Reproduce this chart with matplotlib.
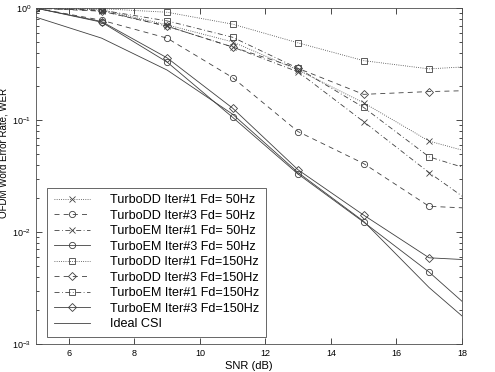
import numpy as np
import matplotlib
matplotlib.use('Agg')
import matplotlib.pyplot as plt
from matplotlib.ticker import LogLocator, NullFormatter

plt.rcParams['font.family'] = ['Liberation Sans', 'DejaVu Sans']

# SNR points (last point lies beyond the axis limit, lines are clipped)
snr = [5, 7, 9, 11, 13, 15, 17, 19]

# WER values
dd1_50 = [1.0, 0.97, 0.71, 0.50, 0.28, 0.143, 0.065, 0.045]
dd3_50 = [1.0, 0.78, 0.54, 0.24, 0.079, 0.041, 0.017, 0.016]
em1_50 = [1.0, 0.95, 0.69, 0.45, 0.27, 0.097, 0.034, 0.013]
em3_50 = [1.0, 0.75, 0.33, 0.106, 0.033, 0.0123, 0.0044, 0.00133]
dd1_150 = [1.0, 0.99, 0.92, 0.72, 0.49, 0.34, 0.287, 0.31]
dd3_150 = [1.0, 0.94, 0.69, 0.45, 0.29, 0.17, 0.18, 0.186]
em1_150 = [1.0, 0.96, 0.77, 0.55, 0.29, 0.13, 0.047, 0.031]
em3_150 = [1.0, 0.76, 0.36, 0.128, 0.036, 0.0142, 0.0059, 0.0055]
ideal = [0.83, 0.54, 0.28, 0.113, 0.034, 0.0125, 0.0032, 0.001]

labels = ['TurboDD Iter#1 Fd= 50Hz', 'TurboDD Iter#3 Fd= 50Hz',
          'TurboEM Iter#1 Fd= 50Hz', 'TurboEM Iter#3 Fd= 50Hz',
          'TurboDD Iter#1 Fd=150Hz', 'TurboDD Iter#3 Fd=150Hz',
          'TurboEM Iter#1 Fd=150Hz', 'TurboEM Iter#3 Fd=150Hz',
          'Ideal CSI']
series = [dd1_50, dd3_50, em1_50, em3_50, dd1_150, dd3_150, em1_150, em3_150, ideal]
styles = [(':', 'x'), ((0, (6, 5)), 'o'), ((0, (6, 3, 1, 3)), 'x'), ('-', 'o'),
          (':', 's'), ((0, (6, 5)), 'D'), ((0, (6, 3, 1, 3)), 's'), ('-', 'D'),
          ('-', None)]

fig = plt.figure(figsize=(4.95, 3.72), dpi=100)
ax = fig.add_axes([0.073, 0.075, 0.860, 0.903])

for y, lab, (ls, mk) in zip(series, labels, styles):
    ms = 4.0 if mk == 'D' else 4.5
    ax.semilogy(snr, y, color='0.25', linestyle=ls, linewidth=0.6,
                marker=mk, markersize=ms, markerfacecolor='none',
                markeredgewidth=0.6, label=lab)

ax.set_xlim(5, 18)
ax.set_ylim(1e-3, 1)
ax.set_xticks([6, 8, 10, 12, 14, 16, 18])
ax.yaxis.set_minor_locator(LogLocator(base=10, subs=np.arange(2, 10)))
ax.yaxis.set_minor_formatter(NullFormatter())
ax.tick_params(which='both', direction='in', top=True, right=True,
               labelsize=6.5, width=0.5)
ax.tick_params(which='major', length=4)
ax.tick_params(which='minor', length=2)
for s in ax.spines.values():
    s.set_linewidth(0.6)
    s.set_color('0.3')

ax.set_xlabel('SNR (dB)', fontsize=8, labelpad=2)
ax.set_ylabel('OFDM Word Error Rate, WER', fontsize=7)
ax.yaxis.set_label_coords(-0.064, 0.57)

leg = ax.legend(loc='lower left', bbox_to_anchor=(0.026, 0.022), fontsize=9.1,
                handlelength=2.9, handletextpad=1.6, labelspacing=0.28,
                borderpad=0.5, fancybox=False, framealpha=1, edgecolor='0.3',
                borderaxespad=0)
leg.get_frame().set_linewidth(0.6)

fig.savefig('out.png', dpi=100)
